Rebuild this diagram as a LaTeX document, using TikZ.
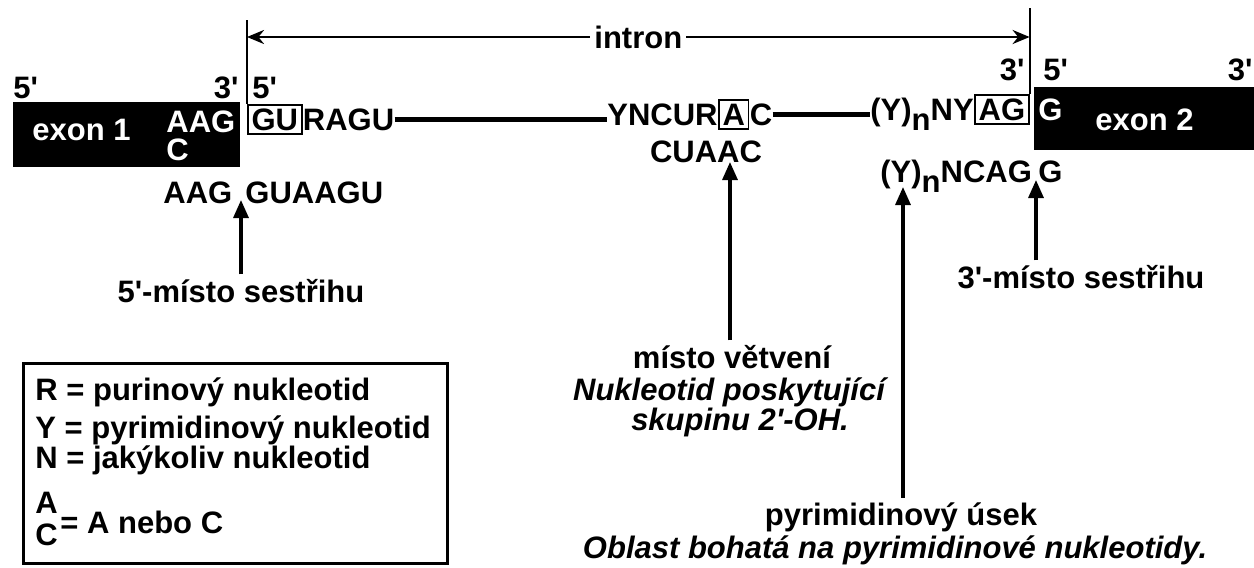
\documentclass[tikz,border=0pt]{standalone}
\usepackage{fontspec}
\setmainfont{Liberation Sans}[Ligatures=TeXOff]
\usetikzlibrary{arrows.meta, positioning}

\begin{document}
\begin{tikzpicture}[x=0.5pt, y=-0.5pt,
      txt/.style={inner sep=0pt, font=\fontsize{15.5}{18}\selectfont\bfseries},
      itxt/.style={inner sep=0pt, font=\fontsize{15.5}{18}\selectfont\bfseries\itshape},
      wtxt/.style={txt, text=white},
      seqbox/.style={txt, draw, line width=0.9pt, inner sep=1.8pt},
      strand/.style={line width=2.8pt},
      pointer/.style={-{Triangle[length=9pt,width=7.5pt]}, line width=1.6pt},
      span/.style={{Stealth[length=8.5pt,width=7pt]}-{Stealth[length=8.5pt,width=7pt]}, line width=1.3pt}]
   \useasboundingbox (0,0) rectangle (1254,568);
   % Exons
   \fill (13,102) rectangle (240,167);
   \fill (1034,87) rectangle (1254,150);
   \node[wtxt, anchor=base west] (exon1) at (32,140) {exon 1};
   \node[wtxt, anchor=base west] (aag1) at (166,132) {AAG};
   \node[wtxt, anchor=base west] (c1) at (166,160) {C};
   \node[wtxt, anchor=base west] (g2) at (1038,120) {G};
   \node[wtxt, anchor=base west] (exon2) at (1095,130) {exon 2};
   % Strand ends
   \node[txt, anchor=base west] (end5a) at (13,98) {5'};
   \node[txt, anchor=base east] (end3a) at (239,98) {3'};
   \node[txt, anchor=base west] (end5b) at (252,98) {5'};
   \node[txt, anchor=base east] (end3b) at (1025,80) {3'};
   \node[txt, anchor=base west] (end5c) at (1043,80) {5'};
   \node[txt, anchor=base east] (end3c) at (1253,80) {3'};
   % Intron sequence
   \node[seqbox, anchor=base west] (gu) at (247,130) {GU};
   \node[txt, anchor=base west] (ragu) at (gu.base east) {RAGU};
   \node[txt, anchor=base west] (yncur) at (607,125) {YNCUR};
   \node[seqbox, anchor=base west] (abr) at (yncur.base east) {A};
   \node[txt, anchor=base west] (cbr) at (abr.base east) {C};
   \node[txt, anchor=base west] (yn) at (870,120) {(Y)\raisebox{-0.35em}{n}NY};
   \node[seqbox, anchor=base west] (ag) at (yn.base east) {AG};
   \draw[strand] (ragu.east) -- (ragu.east -| yncur.west);
   \draw[strand] (cbr.east) -- (cbr.east -| yn.west);
   % Intron span
   \draw[line width=1pt] (gu.north west) -- (gu.north west |- 0,20);
   \draw[line width=1pt] (ag.north east) -- (ag.north east |- 0,8);
   \draw[span] (gu.north west |- 0,37) -- (ag.north east |- 0,37)
      node[midway, txt, fill=white, inner sep=2pt] (intron) {intron};
   % Consensus sequences
   \node[txt, anchor=base west] (aag) at (163,203) {AAG};
   \node[txt, anchor=base west] (guaagu) at (245,203) {GUAAGU};
   \node[txt, anchor=base] (cuaac) at (706,162) {CUAAC};
   \node[txt, anchor=base west] (yncag) at (880,182) {(Y)\raisebox{-0.35em}{n}NCAG};
   \node[txt, anchor=base west] (g3) at (1038,182) {G};
   % Labels and arrows
   \node[txt, anchor=base] (site5) at (241,302) {5'-místo sestřihu};
   \node[txt, anchor=base] (site3) at (1081,288) {3'-místo sestřihu};
   \node[txt, anchor=base] (branch) at (732,368) {místo větvení};
   \node[itxt, anchor=base] (branch2) at (729,400) {Nukleotid poskytující};
   \node[itxt, anchor=base] (branch3) at (740,430) {skupinu 2'-OH.};
   \node[txt, anchor=base] (pyr) at (901,525) {pyrimidinový úsek};
   \node[itxt, anchor=base] (pyr2) at (895,558) {Oblast bohatá na pyrimidinové nukleotidy.};
   \coordinate (tip5) at (241,200);
   \coordinate (tip3) at (1036,180);
   \coordinate (tipb) at (730,162);
   \coordinate (tipy) at (903,187);
   \draw[pointer] ([yshift=2pt]tip5 |- site5.north) -- (tip5);
   \draw[pointer] ([yshift=2pt]tip3 |- site3.north) -- (tip3);
   \draw[pointer] ([yshift=2pt]tipb |- branch.north) -- (tipb);
   \draw[pointer] ([yshift=2pt]tipy |- pyr.north) -- (tipy);
   % Legend
   \draw[line width=1.5pt] (23,363) rectangle (447,563);
   \node[txt, anchor=base west] (keyr) at (35,400) {R = purinový nukleotid};
   \node[txt, anchor=base west] (keyy) at (35,438) {Y = pyrimidinový nukleotid};
   \node[txt, anchor=base west] (keyn) at (35,468) {N = jakýkoliv nukleotid};
   \node[txt, anchor=base west] (keya) at (35,513) {A};
   \node[txt, anchor=base west] (keyc) at (35,545) {C};
   \node[txt, anchor=base west] (keyac) at (60,533) {= A nebo C};
\end{tikzpicture}
\end{document}
